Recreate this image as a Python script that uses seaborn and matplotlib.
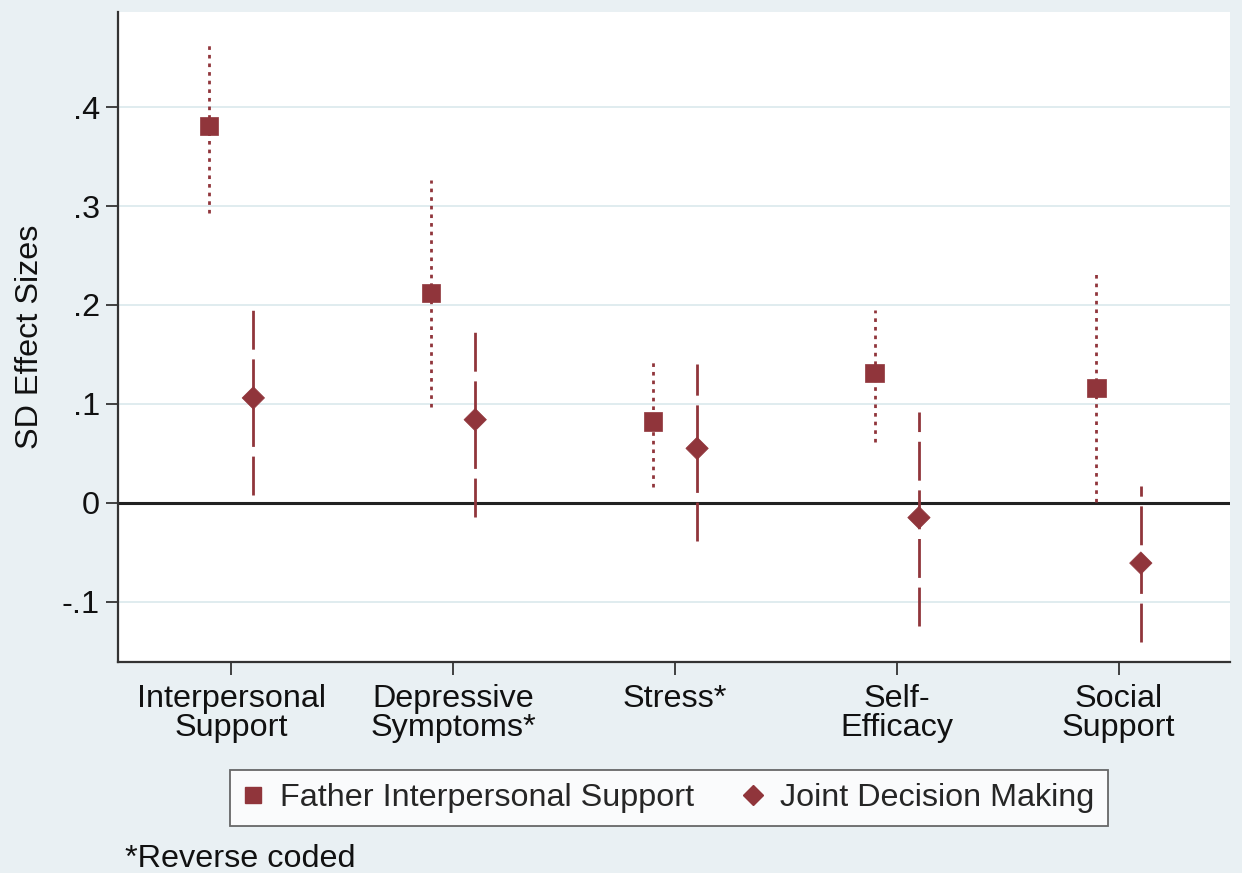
import matplotlib.pyplot as plt
import numpy as np
import pandas as pd
import seaborn as sns

sns.set_style('white')
plt.rcParams['font.family'] = ['Liberation Sans', 'DejaVu Sans']
plt.rcParams['lines.scale_dashes'] = False

# Data
categories = ['Interpersonal\nSupport', 'Depressive\nSymptoms*', 'Stress*',
              'Self-\nEfficacy', 'Social\nSupport']
series = ['Father Interpersonal Support', 'Joint Decision Making']
father_est = [0.381, 0.212, 0.082, 0.131, 0.116]
father_lo = [0.293, 0.097, 0.016, 0.061, 0.001]
father_hi = [0.466, 0.326, 0.146, 0.195, 0.233]
joint_est = [0.106, 0.084, 0.055, -0.015, -0.061]
joint_lo = [0.008, -0.014, -0.039, -0.125, -0.141]
joint_hi = [0.200, 0.182, 0.140, 0.092, 0.017]
yticks = [-0.1, 0, 0.1, 0.2, 0.3, 0.4]
ytick_labels = ['-.1', '0', '.1', '.2', '.3', '.4']

color = '#90353B'
bg = '#E9F0F3'
fs = 23.3

x = np.arange(len(categories))
offset = 0.1
df = pd.DataFrame({
  'pos': np.concatenate([x - offset, x + offset]),
  'est': father_est + joint_est,
  'lo': father_lo + joint_lo,
  'hi': father_hi + joint_hi,
  'series': [series[0]] * len(x) + [series[1]] * len(x),
})

fig, ax = plt.subplots(figsize=(12.42, 8.73), dpi=100)
fig.patch.set_facecolor(bg)
ax.set_facecolor('white')
fig.subplots_adjust(left=0.095, right=0.990, top=0.986, bottom=0.2417)

# grid + zero line
ax.set_yticks(yticks)
ax.yaxis.grid(True, color='#DDEAEE', lw=1.3, zorder=0)
ax.axhline(0, color='#222222', lw=2.2, zorder=1)

# confidence intervals
f = df[df['series'] == series[0]]
j = df[df['series'] == series[1]]
ax.vlines(f['pos'], f['lo'], f['hi'], color=color, lw=2.0,
          linestyles=[(0, (2.6, 3.6))], zorder=2)
ax.vlines(j['pos'], j['lo'], j['hi'], color=color, lw=2.0,
          linestyles=[(0, (28, 7))], zorder=2)

# point estimates
sns.scatterplot(data=df, x='pos', y='est', style='series',
                markers={series[0]: 's', series[1]: 'D'},
                size='series', sizes={series[0]: 175, series[1]: 130},
                color=color, edgecolor=color, linewidth=0.5, ax=ax, zorder=3,
                legend=False)

ax.set_xlim(-0.51, 4.5)
ax.set_ylim(-0.161, 0.496)
ax.set_xticks(x)
ax.set_xticklabels(categories, linespacing=0.93)
ax.set_yticklabels(ytick_labels)
ax.set_xlabel('')
ax.set_ylabel('SD Effect Sizes', fontsize=fs, color='#111111')
ax.yaxis.set_label_coords(-0.066, 0.5)
ax.tick_params(axis='both', direction='out', length=9, width=1.3,
               color='#333333', labelsize=fs, labelcolor='#111111',
               left=True, bottom=True, pad=4)
ax.tick_params(axis='x', pad=7)

for s in ['top', 'right']:
  ax.spines[s].set_visible(False)
for s in ['left', 'bottom']:
  ax.spines[s].set_color('#333333')
  ax.spines[s].set_linewidth(1.6)

# legend
handles = [
  plt.Line2D([], [], marker='s', color=color, ls='none', markersize=11),
  plt.Line2D([], [], marker='D', color=color, ls='none', markersize=10),
]
leg = fig.legend(handles, series, loc='center', ncol=2,
                 bbox_to_anchor=(0.5386, 0.0859), fontsize=fs,
                 frameon=True, fancybox=False, edgecolor='#444444',
                 handlelength=0.6, handletextpad=0.55, columnspacing=1.5,
                 borderpad=0.4, borderaxespad=0)
leg.get_frame().set_linewidth(1.3)
leg.get_frame().set_facecolor('white')

fig.text(125 / 1242, 1 - 867 / 873, '*Reverse coded', fontsize=fs,
         va='baseline', ha='left', color='#111111')

fig.savefig('out.png', dpi=100, facecolor=bg)
